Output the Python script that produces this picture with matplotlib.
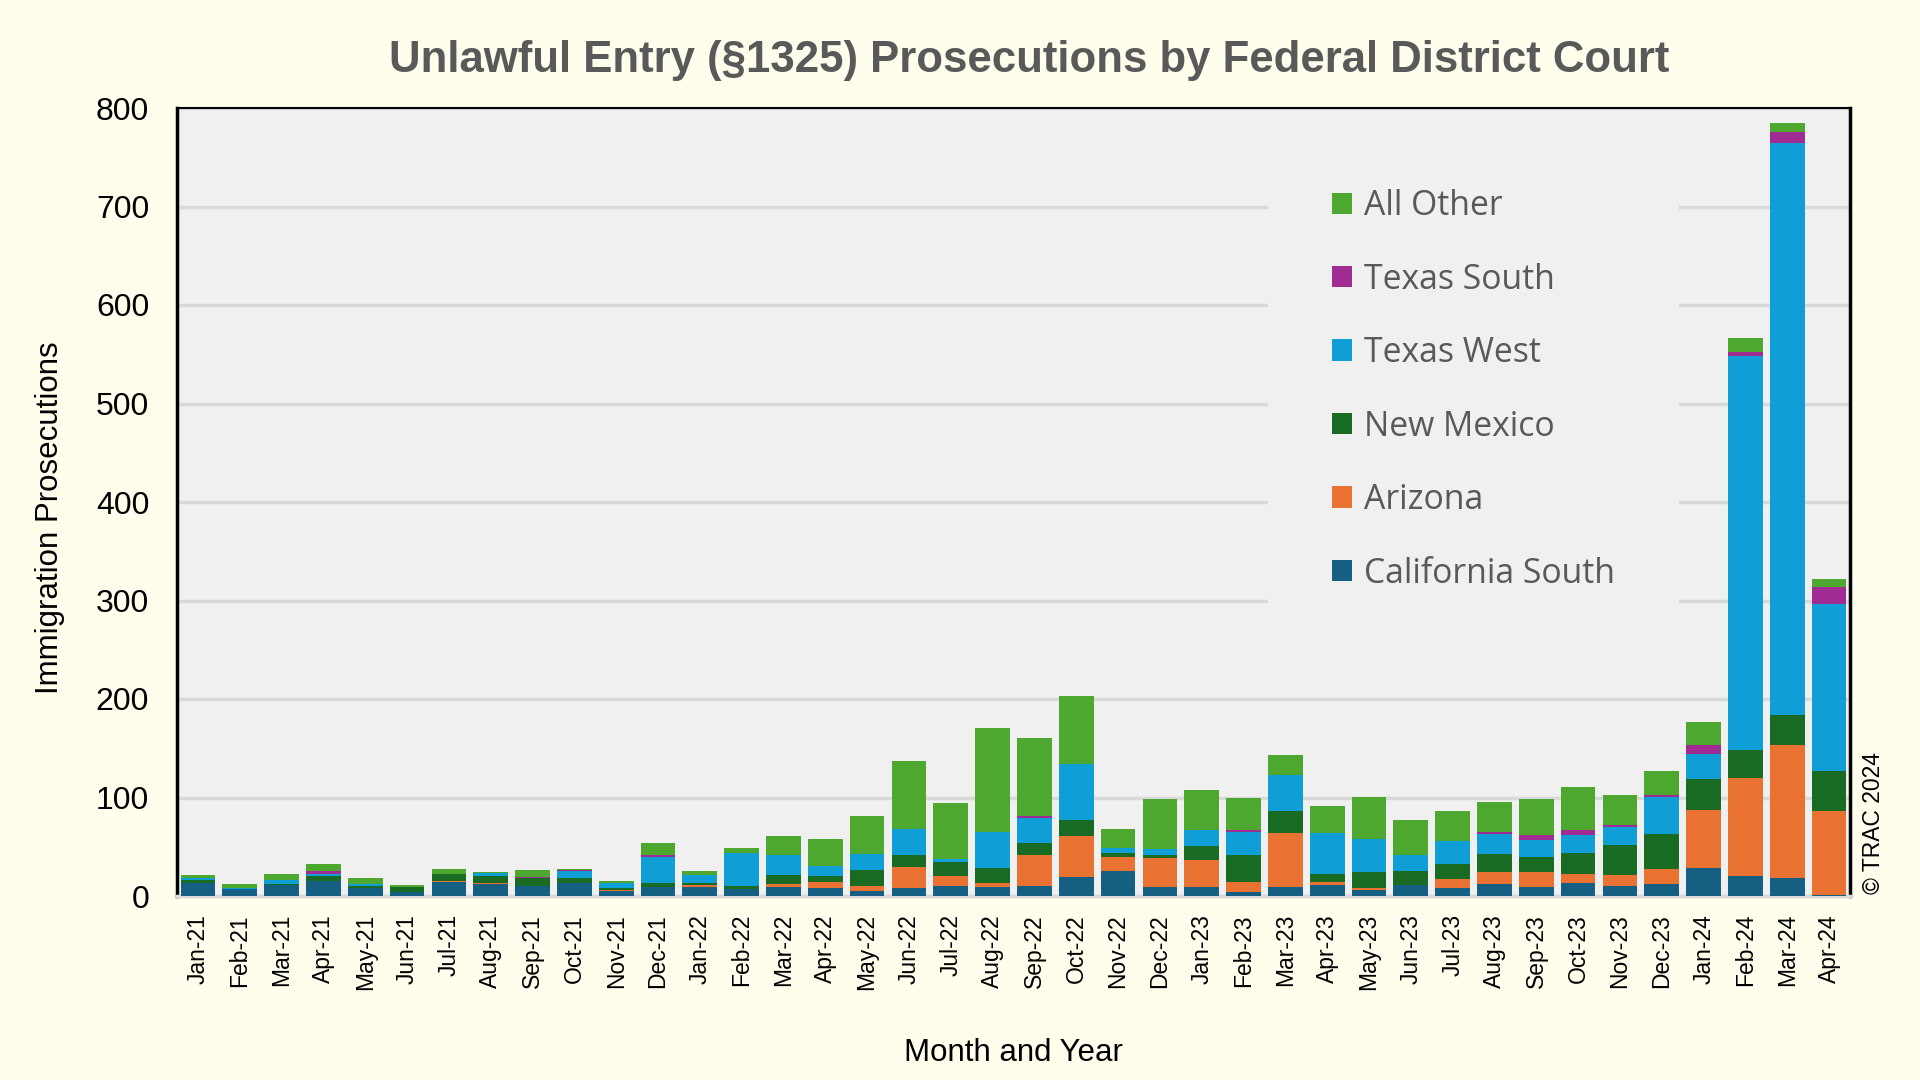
import matplotlib
import matplotlib.pyplot as plt
import numpy as np

matplotlib.use('Agg')

months = ['Jan-21', 'Feb-21', 'Mar-21', 'Apr-21', 'May-21', 'Jun-21', 'Jul-21', 'Aug-21',
          'Sep-21', 'Oct-21', 'Nov-21', 'Dec-21', 'Jan-22', 'Feb-22', 'Mar-22', 'Apr-22',
          'May-22', 'Jun-22', 'Jul-22', 'Aug-22', 'Sep-22', 'Oct-22', 'Nov-22', 'Dec-22',
          'Jan-23', 'Feb-23', 'Mar-23', 'Apr-23', 'May-23', 'Jun-23', 'Jul-23', 'Aug-23',
          'Sep-23', 'Oct-23', 'Nov-23', 'Dec-23', 'Jan-24', 'Feb-24', 'Mar-24', 'Apr-24']

california_south = [13, 7, 11, 15, 8, 4, 14, 12, 10, 13, 5, 9,
                    9, 7, 9, 8, 5, 8, 10, 9, 10, 19, 25, 9,
                    9, 4, 9, 11, 6, 11, 8, 12, 9, 13, 10, 12,
                    28, 20, 18, 1]
arizona = [0, 0, 0, 0, 0, 0, 1, 1, 0, 0, 1, 0,
           2, 0, 3, 6, 5, 21, 10, 4, 32, 42, 15, 30,
           28, 10, 55, 3, 2, 0, 9, 12, 15, 9, 11, 15,
           59, 100, 135, 85]
new_mexico = [3, 0, 1, 5, 2, 5, 7, 7, 8, 5, 2, 4,
              2, 3, 9, 6, 16, 13, 15, 15, 12, 16, 4, 3,
              14, 28, 22, 8, 16, 14, 15, 19, 16, 22, 31, 36,
              32, 28, 31, 41]
texas_west = [2, 1, 4, 2, 2, 0, 0, 3, 0, 7, 5, 27,
              8, 34, 21, 10, 17, 26, 3, 37, 25, 57, 5, 6,
              16, 23, 37, 42, 34, 17, 24, 20, 17, 18, 18, 38,
              25, 400, 580, 169]
texas_south = [0, 0, 0, 3, 0, 0, 0, 0, 1, 1, 0, 2,
               0, 0, 0, 0, 0, 0, 0, 0, 2, 0, 0, 0,
               0, 2, 0, 0, 0, 0, 0, 2, 5, 5, 2, 2,
               9, 4, 12, 18]
all_other = [3, 4, 6, 7, 6, 2, 5, 1, 7, 1, 2, 12,
             4, 5, 19, 28, 38, 69, 56, 106, 79, 69, 19, 50,
             41, 32, 20, 27, 43, 35, 30, 30, 36, 44, 31, 24,
             24, 15, 9, 8]

series = [('California South', california_south, '#156082'),
          ('Arizona', arizona, '#E97132'),
          ('New Mexico', new_mexico, '#196B24'),
          ('Texas West', texas_west, '#0F9ED5'),
          ('Texas South', texas_south, '#A02B93'),
          ('All Other', all_other, '#4EA72E')]

bg = '#FFFDEB'
fig = plt.figure(figsize=(19.2, 10.8), dpi=100, facecolor=bg)
ax = fig.add_axes([177 / 1920, 1 - 896 / 1080, (1850 - 177) / 1920, (896 - 108) / 1080])
ax.set_facecolor('#F0F0F0')

x = np.arange(len(months))
bottom = np.zeros(len(months))
for name, vals, col in series:
    ax.bar(x, vals, bottom=bottom, width=0.83, color=col, linewidth=0, label=name, zorder=3)
    bottom += np.array(vals)

ax.set_xlim(-0.5, len(months) - 0.5)
ax.set_ylim(0, 800)
ax.set_yticks(range(0, 801, 100))
ax.yaxis.grid(True, color='#D9D9D9', linewidth=2.5, zorder=0)
ax.set_axisbelow(True)
ax.set_xticks(x)
ax.set_xticklabels(months, rotation=90, fontsize=16.5, family='Liberation Sans')
for lab in ax.get_yticklabels():
    lab.set_family('Liberation Sans')
    lab.set_fontsize(23)
ax.tick_params(axis='both', length=0)
ax.tick_params(axis='y', pad=20)
ax.tick_params(axis='x', pad=13)

for s in ['left', 'top', 'right']:
    ax.spines[s].set_color('black')
ax.spines['left'].set_linewidth(2.5)
ax.spines['right'].set_linewidth(2.5)
ax.spines['top'].set_linewidth(1.5)
ax.spines['bottom'].set_color('#D9D9D9')
ax.spines['bottom'].set_linewidth(2.5)

ax.set_xlabel('Month and Year', fontsize=22.5, family='Liberation Sans', labelpad=0)
ax.xaxis.set_label_coords(0.5, -0.18)
ax.set_ylabel('Immigration Prosecutions', fontsize=22.5, family='Liberation Sans')
ax.yaxis.set_label_coords(-0.067, 0.48)

fig.text(0.536, 0.944, 'Unlawful Entry (§1325) Prosecutions by Federal District Court',
         ha='center', va='center', fontsize=31.5, fontweight='bold', color='#595959',
         family='Liberation Sans')
fig.text(1874 / 1920, 1 - 894 / 1080, '© TRAC 2024', rotation=90, ha='center', va='bottom',
         fontsize=16.5, family='Liberation Sans')

handles, labels = ax.get_legend_handles_labels()
leg = ax.legend(handles[::-1], labels[::-1], loc='upper left',
                bbox_to_anchor=(1268 / 1920, 1 - 125 / 1080), bbox_transform=fig.transFigure,
                borderaxespad=0, borderpad=1.9, handlelength=0.6, handleheight=0.6,
                handletextpad=0.35, labelspacing=1.17, frameon=True, fancybox=False,
                prop={'family': 'Open Sans', 'size': 24.3})
leg.get_frame().set_facecolor('#F0F0F0')
leg.get_frame().set_edgecolor('none')
leg.get_frame().set_alpha(1)
leg.set_zorder(5)
for t in leg.get_texts():
    t.set_color('#595959')

fig.savefig('out.png', dpi=100, facecolor=bg)
